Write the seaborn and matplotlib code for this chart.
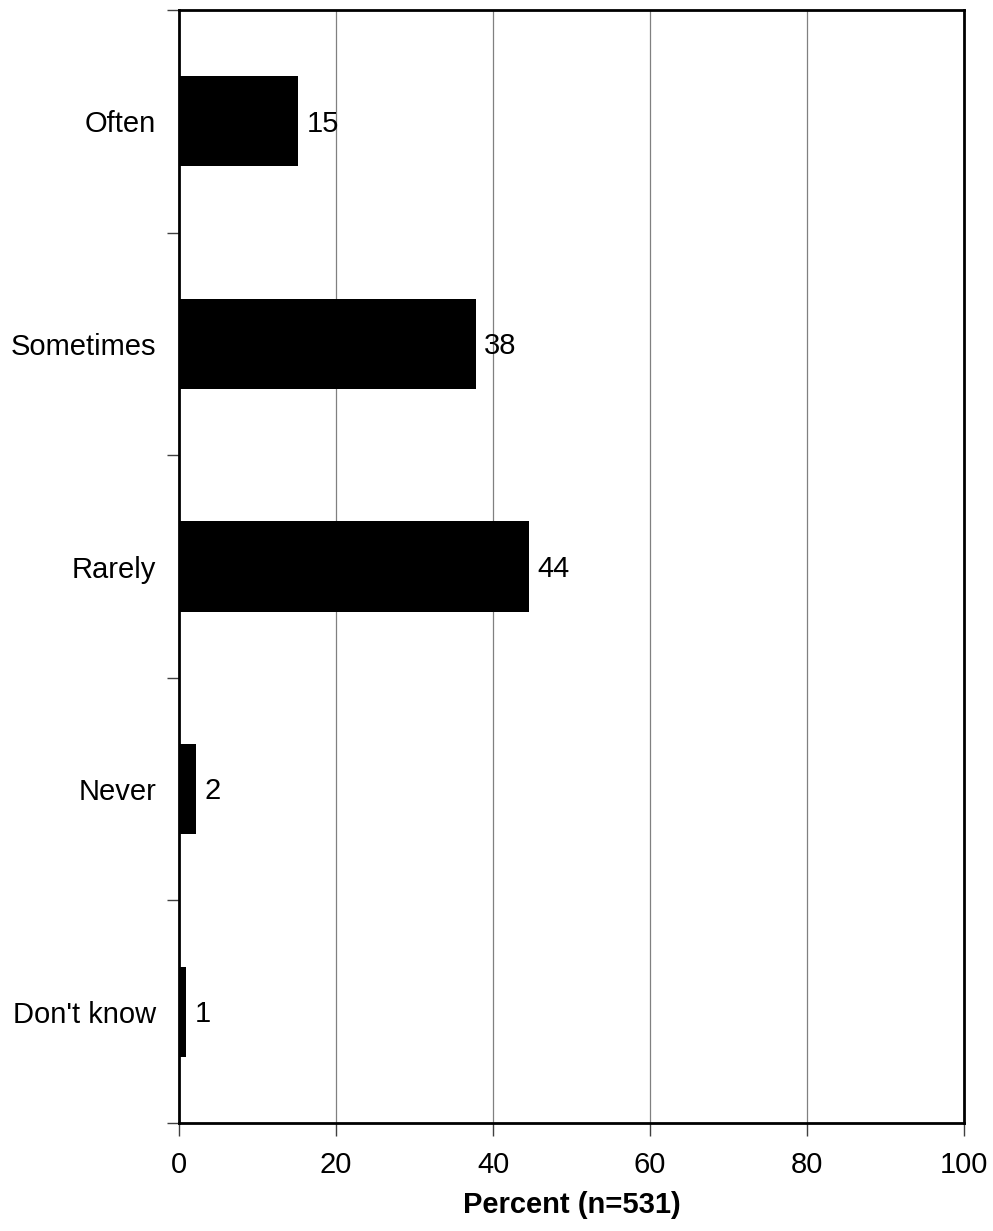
import matplotlib
matplotlib.use("Agg")
import matplotlib.pyplot as plt
import seaborn as sns
import pandas as pd
from matplotlib.ticker import FixedLocator

categories = ["Often", "Sometimes", "Rarely", "Never", "Don't know"]
values = [15.2, 37.8, 44.6, 2.2, 0.9]
value_labels = ["15", "38", "44", "2", "1"]
x_ticks = [0, 20, 40, 60, 80, 100]

sns.set_style("white")
plt.rcParams['font.family'] = ['Liberation Sans', 'DejaVu Sans']
plt.rcParams['text.color'] = 'black'
plt.rcParams['axes.labelcolor'] = 'black'
plt.rcParams['xtick.color'] = 'black'
plt.rcParams['ytick.color'] = 'black'

FS = 21

df = pd.DataFrame({"cat": categories, "val": values})

fig = plt.figure(figsize=(9.93, 12.31), dpi=100)
ax = fig.add_axes([179/993, 1 - 1123/1231, (964 - 179)/993, (1123 - 10)/1231])

sns.barplot(data=df, x="val", y="cat", orient="h", color="black",
            width=0.405, ax=ax, saturation=1, edgecolor="black", linewidth=0)

ax.set_xlim(0, 100)
ax.set_ylim(len(categories) - 0.5, -0.5)
ax.set_xticks(x_ticks)
ax.set_xticklabels([str(t) for t in x_ticks], fontsize=FS)
ax.tick_params(axis="x", which="major", bottom=True, direction="out", length=9,
               width=1, color="#404040", labelcolor="black", pad=11)

ax.set_yticks(range(len(categories)))
ax.set_yticklabels(categories, fontsize=FS)
ax.tick_params(axis="y", which="major", left=True, length=0, pad=16.5, labelcolor="black")
ax.yaxis.set_minor_locator(FixedLocator([i - 0.5 for i in range(len(categories) + 1)]))
ax.tick_params(axis="y", which="minor", left=True, direction="out", length=9,
               width=1, color="#404040")

for x in [20, 40, 60, 80]:
    ax.axvline(x, color="#808080", linewidth=0.9, zorder=0)

for sp in ax.spines.values():
    sp.set_visible(True)
    sp.set_color("black")
    sp.set_linewidth(2)

for i, (v, lab) in enumerate(zip(values, value_labels)):
    ax.text(v + 1.1, i + 0.01, lab, va="center", ha="left", fontsize=FS, color="black")

ax.set_ylabel("")
ax.set_xlabel("Percent (n=531)", fontsize=FS, fontweight="bold", labelpad=9, color="black")

fig.savefig("out.png", dpi=100)
